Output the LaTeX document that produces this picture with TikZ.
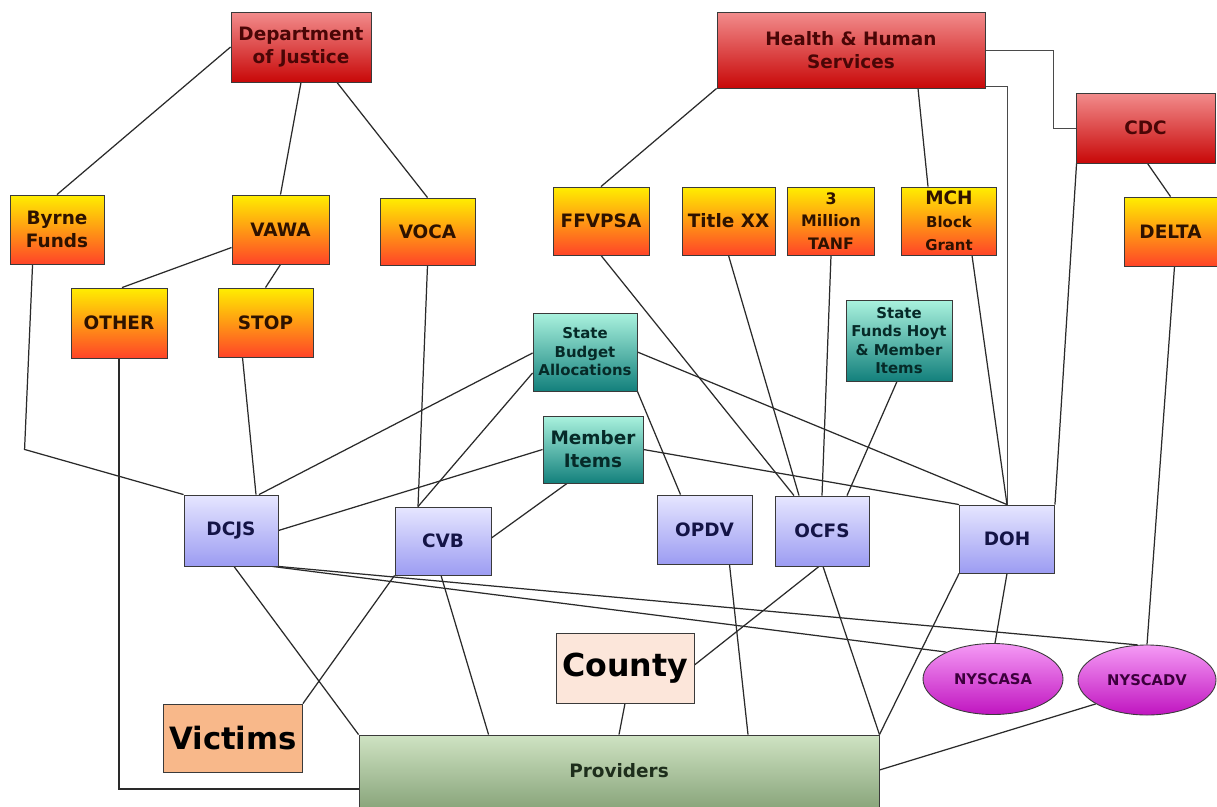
\documentclass[tikz,border=0pt]{standalone}
\usepackage{fontspec}
\setmainfont{DejaVu Sans}
\usetikzlibrary{calc,shapes.geometric,backgrounds}
\definecolor{redT}{HTML}{F28C8C}
\definecolor{redB}{HTML}{C80808}
\definecolor{redtext}{HTML}{4A0606}
\definecolor{yelT}{HTML}{FFEE00}
\definecolor{yelB}{HTML}{FF4428}
\definecolor{yeltext}{HTML}{2E1200}
\definecolor{tealT}{HTML}{AAF2DE}
\definecolor{tealB}{HTML}{13807C}
\definecolor{tealtext}{HTML}{062A28}
\definecolor{lavT}{HTML}{E6E6FF}
\definecolor{lavB}{HTML}{9C9CF2}
\definecolor{lavtext}{HTML}{141446}
\definecolor{provT}{HTML}{CFE3C3}
\definecolor{provB}{HTML}{8AA67C}
\definecolor{provtext}{HTML}{1E2E1C}
\definecolor{magT}{HTML}{F59AF5}
\definecolor{magB}{HTML}{C015C0}
\definecolor{magtext}{HTML}{3C003C}
\definecolor{countyfill}{HTML}{FCE6DA}
\definecolor{victimfill}{HTML}{F8B88A}
\definecolor{boxline}{HTML}{3A3A3A}
\definecolor{linecol}{HTML}{2A2A2A}
\newcommand\smallf{\fontsize{8.5}{10.5}\selectfont}
\newcommand\tanff{\fontsize{9}{12.5}\selectfont}
\begin{document}
\begin{tikzpicture}[x=0.2mm,y=-0.2mm,
  sz/.style 2 args={minimum width=#1*0.2mm, minimum height=#2*0.2mm},
  box/.style={draw=boxline, line width=0.5pt, inner sep=1pt, align=center,
    font=\bfseries\fontsize{10.5}{13}\selectfont},
  redbox/.style={box, top color=redT, bottom color=redB, text=redtext},
  yelbox/.style={box, top color=yelT, bottom color=yelB, text=yeltext},
  tealbox/.style={box, top color=tealT, bottom color=tealB, text=tealtext},
  lavbox/.style={box, top color=lavT, bottom color=lavB, text=lavtext},
  provbox/.style={box, top color=provT, bottom color=provB, text=provtext},
  magell/.style={box, ellipse, inner sep=0pt, top color=magT, bottom color=magB, text=magtext,
    font=\bfseries\fontsize{8.4}{10}\selectfont},
  conn/.style={draw=linecol, line width=0.7pt},
  ortho/.style={draw=linecol!85, line width=0.55pt}
]
\useasboundingbox (0,0) rectangle (1217,806);

% top level
\node[redbox, sz={140}{70}] (doj) at (301,47) {Department\\of Justice};
\node[redbox, sz={268}{76}] (hhs) at (851,50) {Health \& Human\\Services};
\node[redbox, sz={139}{70}] (cdc) at (1145.5,128) {CDC};

% funding sources
\node[yelbox, sz={94}{69}] (byrne) at (57,229.5) {Byrne\\Funds};
\node[yelbox, sz={97}{69}] (vawa) at (280.5,229.5) {VAWA};
\node[yelbox, sz={95}{67}] (voca) at (427.5,231.5) {VOCA};
\node[yelbox, sz={96}{70}] (other) at (119,323) {OTHER};
\node[yelbox, sz={95}{69}] (stop) at (265.5,322.5) {STOP};
\node[yelbox, sz={96}{68}] (ffvpsa) at (601,221) {FFVPSA};
\node[yelbox, sz={93}{68}] (titlexx) at (728.5,221) {Title XX};
\node[yelbox, sz={87}{68}] (tanf) at (831,221) {\tanff 3\\\tanff Million\\\tanff TANF};
\node[yelbox, sz={95}{68}] (mch) at (949,221) {MCH\\\smallf Block\\\smallf Grant};
\node[yelbox, sz={93}{69}] (delta) at (1170.5,231.5) {DELTA};

% state
\node[tealbox, sz={104}{78}, font=\bfseries\fontsize{8.5}{10.5}\selectfont] (sba) at (585,352) {State\\Budget\\Allocations};
\node[tealbox, sz={100}{67}] (mi) at (593,449.5) {Member\\Items};
\node[tealbox, sz={106}{81}, font=\bfseries\fontsize{8.5}{10.4}\selectfont] (sfh) at (899,340.5) {State\\Funds Hoyt\\\& Member\\Items};

% agencies
\node[lavbox, sz={94}{71}] (dcjs) at (231,530.5) {DCJS};
\node[lavbox, sz={96}{68}] (cvb) at (443,541) {CVB};
\node[lavbox, sz={95}{69}] (opdv) at (704.5,529.5) {OPDV};
\node[lavbox, sz={94}{70}] (ocfs) at (822,531) {OCFS};
\node[lavbox, sz={95}{68}] (doh) at (1007,539) {DOH};

% bottom
\node[box, fill=countyfill, text=black, sz={138}{70}, font=\bfseries\fontsize{18}{20}\selectfont] (county) at (625,668) {County};
\node[box, fill=victimfill, text=black, sz={139}{68}, font=\bfseries\fontsize{17.5}{20}\selectfont] (victims) at (233,738) {Victims};
\node[provbox, sz={520}{72}] (providers) at (619,771) {Providers};
\node[magell, sz={140}{71}] (nyscasa) at (993,679) {NYSCASA};
\node[magell, sz={138}{70}] (nyscadv) at (1147,680) {NYSCADV};

\begin{scope}[on background layer]
\fill[white] (0,0) rectangle (1217,806);
% Department of Justice
\draw[conn] (doj.west) -- (byrne.north);
\draw[conn] (doj.south) -- (vawa.north);
\draw[conn] ($(doj.south)+(36,0)$) -- (voca.north);
\draw[conn] ($(vawa.west)+(0,18)$) -- ($(other.north)+(3,0)$);
\draw[conn] (vawa.south) -- (stop.north);
\draw[conn] ($(byrne.south west)+(23,0)$) -- ($(byrne.south west)+(15,185)$) -- (dcjs.north west);
\draw[conn, line width=0.9pt] (other.south) |- ($(providers.west)+(0,18)$);
\draw[conn] ($(stop.south)+(-23,0)$) -- ($(dcjs.north)+(25,0)$);
\draw[conn] (voca.south) -- ($(cvb.north)+(-25,0)$);
% state funds
\draw[conn] ($(sba.west)+(0,1)$) -- ($(dcjs.north)+(28,0)$);
\draw[conn] ($(sba.west)+(0,21)$) -- ($(cvb.north)+(-25,0)$);
\draw[conn] (sba.south east) -- ($(opdv.north)+(-24,0)$);
\draw[conn] (sba.east) -- (doh.north);
\draw[conn] (mi.west) -- (dcjs.east);
\draw[conn] ($(mi.south)+(-26,0)$) -- ($(cvb.east)+(0,-3)$);
\draw[conn] (mi.east) -- (doh.north west);
% Health & Human Services
\draw[conn] (hhs.south west) -- (ffvpsa.north);
\draw[conn] ($(hhs.south)+(67,0)$) -- ($(mch.north)+(-21,0)$);
\draw[ortho] (hhs.east) -- ++(68,0) |- (cdc.west);
\draw[ortho] ($(hhs.south east)+(0,-2)$) -| (doh.north);
\draw[conn] ($(cdc.south)+(2,0)$) -- (delta.north);
\draw[conn] ($(cdc.south west)+(1,0)$) -- (doh.north east);
\draw[conn] ($(delta.south)+(4,0)$) -- (nyscadv.north);
\draw[conn] (ffvpsa.south) -- ($(ocfs.north)+(-28,0)$);
\draw[conn] (titlexx.south) -- ($(ocfs.north)+(-23,0)$);
\draw[conn] (tanf.south) -- (ocfs.north);
\draw[conn] ($(sfh.south)+(-2,0)$) -- ($(ocfs.north)+(25,0)$);
\draw[conn] ($(mch.south)+(23,0)$) -- (doh.north);
% agencies downward
\draw[conn] ($(dcjs.south east)+(-6,0)$) -- (nyscasa.150);
\draw[conn] (dcjs.south east) -- (nyscadv.105);
\draw[conn] ($(dcjs.south)+(3,0)$) -- (providers.north west);
\draw[conn] (cvb.south west) -- (victims.north east);
\draw[conn] ($(cvb.south)+(-2,0)$) -- ($(providers.north west)+(130,0)$);
\draw[conn] (county.south) -- (providers.north);
\draw[conn] ($(ocfs.south)+(-3,0)$) -- ($(county.east)+(0,-3)$);
\draw[conn] ($(opdv.south)+(25,0)$) -- ($(providers.north)+(129,0)$);
\draw[conn] ($(ocfs.south)+(1,0)$) -- (providers.north east);
\draw[conn] (doh.south west) -- (providers.north east);
\draw[conn] (doh.south) -- ($(nyscasa.north)+(2,0)$);
\draw[conn] (nyscadv.205) -- ($(providers.east)+(0,-1)$);
\end{scope}
\end{tikzpicture}
\end{document}
